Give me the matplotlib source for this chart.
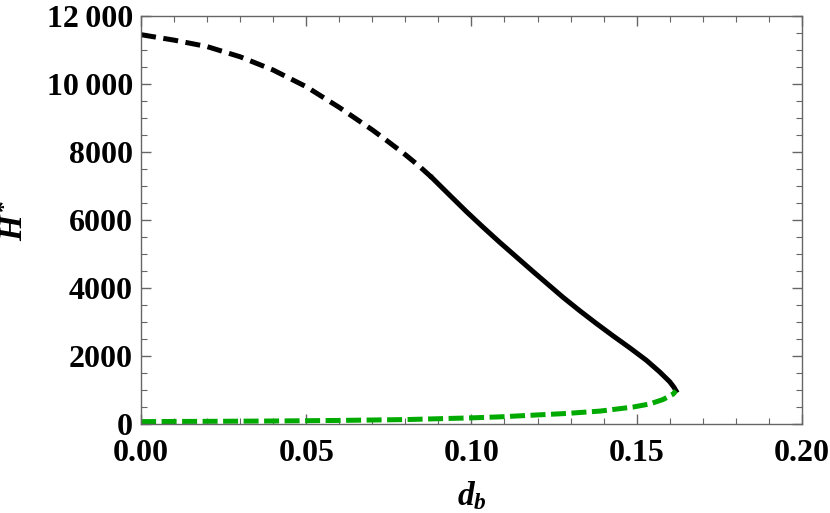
import numpy as np
import matplotlib
matplotlib.use("Agg")
from matplotlib import pyplot as plt
from matplotlib.ticker import MultipleLocator, FuncFormatter

# upper branch (black)
d_up = [0.0, 0.01, 0.02, 0.03, 0.04, 0.05, 0.06, 0.07, 0.075, 0.08, 0.084, 0.088,
        0.093, 0.0985, 0.1035, 0.1086, 0.1187, 0.1278, 0.1328, 0.1379, 0.1429, 0.148,
        0.153, 0.157, 0.16, 0.1613, 0.1619]
H_up = [11450, 11290, 11100, 10800, 10410, 9920, 9310, 8650, 8290, 7920, 7600, 7250,
        6770, 6245, 5790, 5340, 4480, 3720, 3330, 2950, 2590, 2235,
        1870, 1530, 1245, 1080, 980]
d_split = 0.088  # dashed before, solid after

# lower branch (green)
d_low = [0.0, 0.02, 0.04, 0.06, 0.08, 0.1, 0.1086, 0.1288, 0.139, 0.149, 0.154, 0.158, 0.1611, 0.1619]
H_low = [70, 78, 88, 105, 130, 180, 210, 310, 380, 500, 590, 720, 882, 980]

plt.rcParams['font.family'] = ['Liberation Serif', 'DejaVu Serif']
plt.rcParams['font.weight'] = 'bold'
plt.rcParams['mathtext.fontset'] = 'custom'
plt.rcParams['mathtext.it'] = 'Liberation Serif:italic:bold'
plt.rcParams['mathtext.rm'] = 'Liberation Serif:bold'
plt.rcParams['mathtext.bf'] = 'Liberation Serif:bold'

fig = plt.figure(figsize=(8.3, 5.13), dpi=100)
ax = fig.add_axes([0.170, 0.1735, 0.796, 0.7953])

d_up = np.array(d_up)
H_up = np.array(H_up)
dash = d_up <= d_split
solid = d_up >= d_split
ax.plot(d_up[dash], H_up[dash], color='k', lw=3.6, dashes=(3.0, 1.5))
ax.plot(d_up[solid], H_up[solid], color='k', lw=3.6, solid_joinstyle='round')
ax.plot(d_low, H_low, color='#00aa00', lw=3.6, dashes=(3.0, 1.1))

ax.set_xlim(0, 0.2)
ax.set_ylim(0, 12000)
ax.xaxis.set_major_locator(MultipleLocator(0.05))
ax.xaxis.set_minor_locator(MultipleLocator(0.01))
ax.yaxis.set_major_locator(MultipleLocator(2000))
ax.yaxis.set_minor_locator(MultipleLocator(500))
ax.xaxis.set_major_formatter(FuncFormatter(lambda v, p: '%.2f' % v))
ax.yaxis.set_major_formatter(FuncFormatter(
    lambda v, p: ('%d' % v) if v < 10000 else '{:,}'.format(int(v)).replace(',', '\u2009')))

ax.tick_params(which='both', direction='in', top=True, right=True, color='#666666',
               labelsize=23)
ax.tick_params(axis='x', pad=11)
ax.tick_params(axis='y', pad=6)
ax.tick_params(which='major', length=7, width=1)
ax.tick_params(which='minor', length=4.5, width=0.8)
for s in ax.spines.values():
    s.set_color('#666666')
    s.set_linewidth(1)

ax.set_xlabel(r'$d_b$', fontsize=24, labelpad=8)
ax.set_ylabel(r'$H^{*}$', fontsize=24, labelpad=12)

fig.savefig('out.png', dpi=100)
